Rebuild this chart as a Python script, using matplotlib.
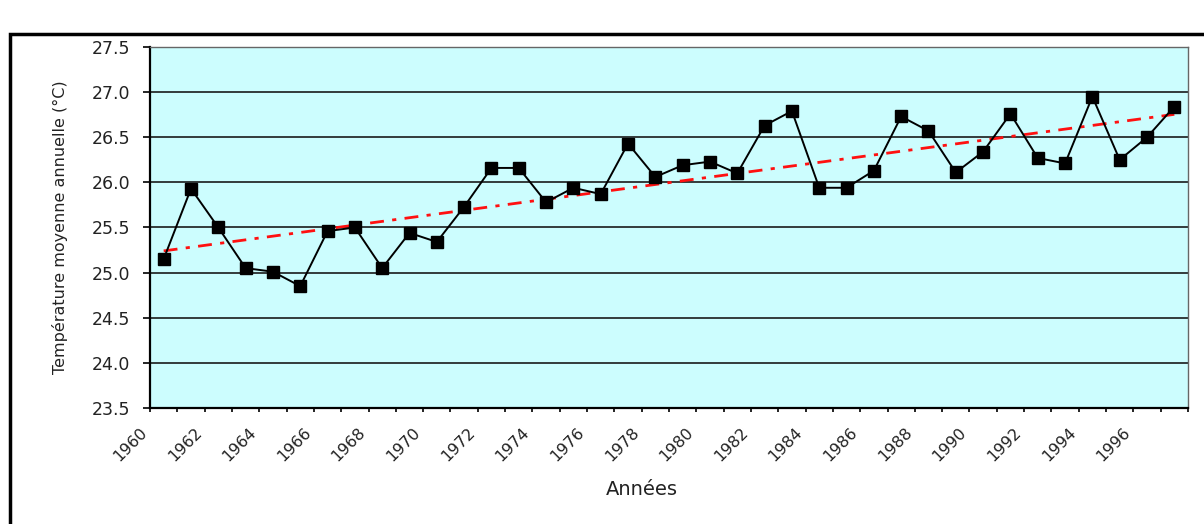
import numpy as np
import matplotlib.pyplot as plt
from matplotlib.patches import Rectangle

# annual mean temperature, one value per year
years = list(range(1960, 1998))
temps = [25.15, 25.93, 25.50, 25.05, 25.01, 24.85, 25.46, 25.50, 25.05, 25.44,
         25.34, 25.73, 26.16, 26.16, 25.78, 25.94, 25.87, 26.43, 26.06, 26.19,
         26.23, 26.10, 26.63, 26.79, 25.94, 25.94, 26.13, 26.73, 26.57, 26.11,
         26.34, 26.76, 26.27, 26.21, 26.95, 26.25, 26.50, 26.84]
year_labels = [str(y) for y in years[::2]]

plt.rcParams['font.family'] = ['DejaVu Sans']

fig = plt.figure(figsize=(12.04, 5.24), dpi=100)
ax = fig.add_axes([0.1246, 0.2214, 0.8621, 0.6889])
ax.set_facecolor('#CCFDFE')

x = np.arange(len(years))
ax.plot(x, temps, color='black', lw=1.4, marker='s', markersize=9,
        markerfacecolor='black', markeredgecolor='black', zorder=4)

# linear trend (Excel style trendline)
a, b = np.polyfit(x, temps, 1)
ax.plot(x, a * x + b, color='#FF1010', lw=2.0, linestyle=(0, (5, 3, 1.5, 3)), zorder=3)

ax.set_xlim(-0.5, len(years) - 0.5)
ax.set_ylim(23.5, 27.5)
ax.set_yticks(np.arange(23.5, 27.51, 0.5))
ax.set_yticklabels(['%.1f' % v for v in np.arange(23.5, 27.51, 0.5)])
ax.yaxis.grid(True, color='#1a1a1a', lw=1.2)
ax.set_axisbelow(True)

ax.set_xticks(np.arange(0, len(years), 2) - 0.5)
ax.set_xticklabels(year_labels, rotation=45, ha='right', fontsize=11.5, color='#222222')
ax.set_xticks(np.arange(-0.5, len(years), 1), minor=True)
ax.tick_params(axis='x', which='both', direction='out', length=3, width=1.2, color='black')
ax.tick_params(axis='x', which='major', pad=9)
ax.tick_params(axis='y', direction='out', length=5, width=1.2, pad=9,
               labelsize=12.5, labelcolor='#222222')

for s in ['left', 'bottom']:
    ax.spines[s].set_color('black')
    ax.spines[s].set_linewidth(1.6)
for s in ['top', 'right']:
    ax.spines[s].set_color('#666666')
    ax.spines[s].set_linewidth(1.0)

ax.set_ylabel('Température moyenne annuelle (°C)', fontsize=11.5, color='#222222')
ax.set_xlabel('Années', fontsize=14, color='#222222')
ax.yaxis.set_label_coords(-0.0788, 0.5)
ax.xaxis.set_label_coords(0.4735, -0.2)

# outer chart frame
fig.patches.append(Rectangle((10 / 1204, -0.05), 1.1, 1 - 34 / 524 + 0.05,
                             transform=fig.transFigure, fill=False,
                             edgecolor='black', lw=2.5))

plt.savefig('out.png', dpi=100)
